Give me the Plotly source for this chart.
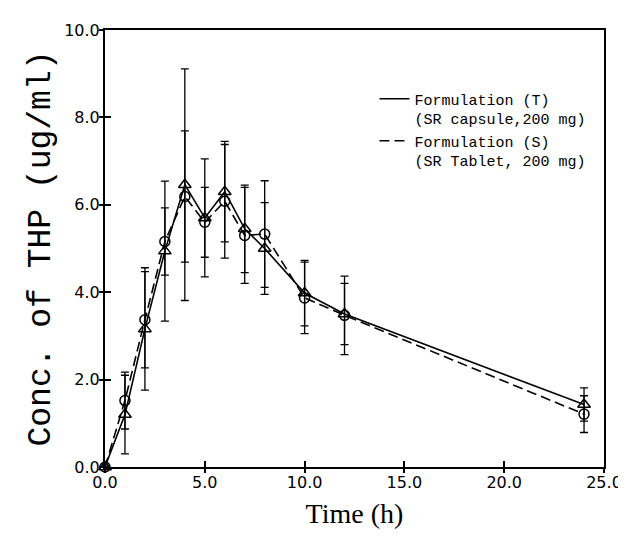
import plotly.graph_objects as go

time_h = [0, 1, 2, 3, 4, 5, 6, 7, 8, 10, 12, 24]

# Formulation (T) - SR capsule, triangles, solid
conc_T = [0.0, 1.20, 3.16, 4.94, 6.46, 5.70, 6.30, 5.45, 5.00, 3.98, 3.50, 1.43]
sd_T = [0.0, 0.90, 1.40, 1.60, 2.65, 1.35, 1.15, 1.00, 1.05, 0.75, 0.70, 0.38]

# Formulation (S) - SR tablet, circles, dashed
conc_S = [0.0, 1.52, 3.37, 5.16, 6.19, 5.60, 6.08, 5.30, 5.33, 3.87, 3.47, 1.21]
sd_S = [0.0, 0.65, 1.10, 0.77, 1.50, 0.80, 1.30, 1.10, 1.22, 0.82, 0.90, 0.42]

name_T = "Formulation (T)<br>(SR capsule,200 mg)"
name_S = "Formulation (S)<br>(SR Tablet, 200 mg)"

fig = go.Figure()

err_style = dict(type="data", visible=True, color="black", thickness=1.3, width=4)

fig.add_trace(go.Scatter(
    x=time_h, y=conc_T, mode="lines+markers", showlegend=False,
    line=dict(color="black", width=1.6),
    marker=dict(symbol="triangle-up-open", size=11, color="black", line=dict(width=1.5)),
    error_y=dict(array=sd_T, **err_style), cliponaxis=False))

fig.add_trace(go.Scatter(
    x=time_h, y=conc_S, mode="lines+markers", showlegend=False,
    line=dict(color="black", width=1.6, dash="10px,5px"),
    marker=dict(symbol="circle-open", size=10, color="black", line=dict(width=1.5)),
    error_y=dict(array=sd_S, **err_style), cliponaxis=False))

# legend-only entries (lines only)
fig.add_trace(go.Scatter(x=[None], y=[None], mode="lines", name=name_T,
                         line=dict(color="black", width=1.6)))
fig.add_trace(go.Scatter(x=[None], y=[None], mode="lines", name=name_S,
                         line=dict(color="black", width=1.6, dash="10px,5px")))

# invisible trace to carry overlay axes (outer half of crossing ticks)
fig.add_trace(go.Scatter(x=[None], y=[None], xaxis="x2", yaxis="y2",
                         showlegend=False, hoverinfo="skip"))

tickfont = dict(family="DejaVu Sans", size=16, color="black")

fig.update_layout(
    width=626, height=538,
    margin=dict(l=97, r=20, t=22, b=79),
    paper_bgcolor="white", plot_bgcolor="white",
    showlegend=True,
    legend=dict(x=0.54, y=0.88, xanchor="left", yanchor="top",
                bgcolor="rgba(0,0,0,0)", borderwidth=0, valign="top",
                font=dict(family="Liberation Mono", size=15, color="black"),
                tracegroupgap=18, itemwidth=30),
    xaxis=dict(range=[0, 25], dtick=5, tickformat=".1f", showgrid=False, zeroline=False,
               showline=True, linecolor="black", linewidth=2, mirror=True,
               ticks="inside", ticklen=6, tickwidth=1.5, tickcolor="black",
               tickfont=tickfont,
               title=dict(text="Time (h)", font=dict(family="Liberation Serif", size=28, color="black"),
                          standoff=12)),
    yaxis=dict(range=[0, 10], dtick=2, tickformat=".1f", showgrid=False, zeroline=False,
               showline=True, linecolor="black", linewidth=2, mirror=True,
               ticks="inside", ticklen=6, tickwidth=1.5, tickcolor="black",
               tickfont=tickfont,
               title=dict(text="Conc. of THP (ug/ml)", font=dict(family="Liberation Mono", size=33, color="black"),
                          standoff=4)),
    xaxis2=dict(range=[0, 25], dtick=5, overlaying="x", anchor="y2", side="bottom",
                showgrid=False, zeroline=False, showline=False, showticklabels=False,
                ticks="outside", ticklen=5, tickwidth=1.5, tickcolor="black"),
    yaxis2=dict(range=[0, 10], dtick=2, overlaying="y", anchor="x2", side="left",
                showgrid=False, zeroline=False, showline=False, showticklabels=False,
                ticks="outside", ticklen=5, tickwidth=1.5, tickcolor="black"),
)

fig.write_html("out.html")
